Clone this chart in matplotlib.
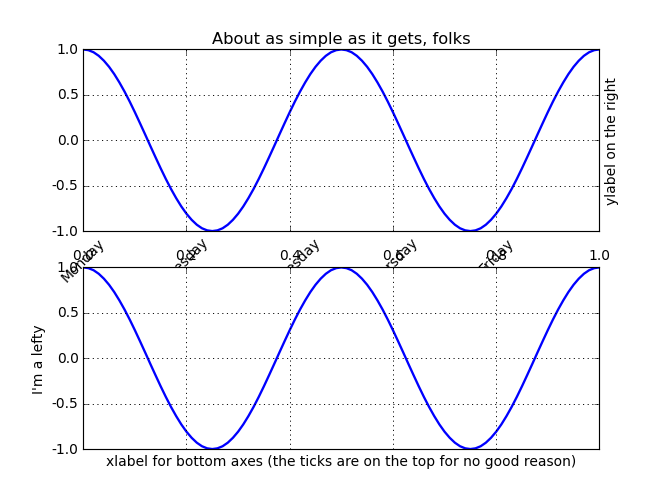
import matplotlib
matplotlib.use("Agg")
import matplotlib.pyplot as plt

plt.style.use("classic")
plt.rcParams["axes.unicode_minus"] = False

# time axis (0..1 in steps of 0.01) and the curve
t = [i / 100 for i in range(101)]
half = [1.000, 0.992, 0.969, 0.930, 0.876, 0.809, 0.729, 0.637, 0.536, 0.426,
        0.309, 0.187, 0.063, -0.063, -0.187, -0.309, -0.426, -0.536, -0.637, -0.729,
        -0.809, -0.876, -0.930, -0.969, -0.992, -1.000, -0.992, -0.969, -0.930, -0.876,
        -0.809, -0.729, -0.637, -0.536, -0.426, -0.309, -0.187, -0.063, 0.063, 0.187,
        0.309, 0.426, 0.536, 0.637, 0.729, 0.809, 0.876, 0.930, 0.969, 0.992]
s = half + half + [1.000]

xticks = [0.0, 0.2, 0.4, 0.6, 0.8, 1.0]
day_labels = ["Monday", "Tuesday", "Wednesday", "Thursday", "Friday", ""]
yticks = [-1.0, -0.5, 0.0, 0.5, 1.0]

DPI = 666 / 8
fig = plt.figure(figsize=(8, 6), dpi=DPI)

ax1 = fig.add_subplot(211)
ax1.plot(t, s, color="b", linewidth=2)
ax1.grid(True, color="black", linestyle=":", linewidth=0.8)
ax1.set_xlim(0, 1)
ax1.set_ylim(-1, 1)
ax1.set_yticks(yticks)
ax1.set_xticks(xticks)
ax1.set_xticklabels(day_labels, rotation=45)
ax1.set_title("About as simple as it gets, folks", fontsize=14)
ax1.yaxis.set_label_position("right")
ax1.set_ylabel("ylabel on the right")

ax2 = fig.add_subplot(212)
ax2.plot(t, s, color="b", linewidth=2)
ax2.grid(True, color="black", linestyle=":", linewidth=0.8)
ax2.set_xlim(0, 1)
ax2.set_ylim(-1, 1)
ax2.set_yticks(yticks)
ax2.set_xticks(xticks)
ax2.xaxis.tick_top()
ax2.set_ylabel("I'm a lefty")
ax2.set_xlabel("xlabel for bottom axes (the ticks are on the top for no good reason)")

fig.savefig("out.png", dpi=DPI, facecolor="white")
